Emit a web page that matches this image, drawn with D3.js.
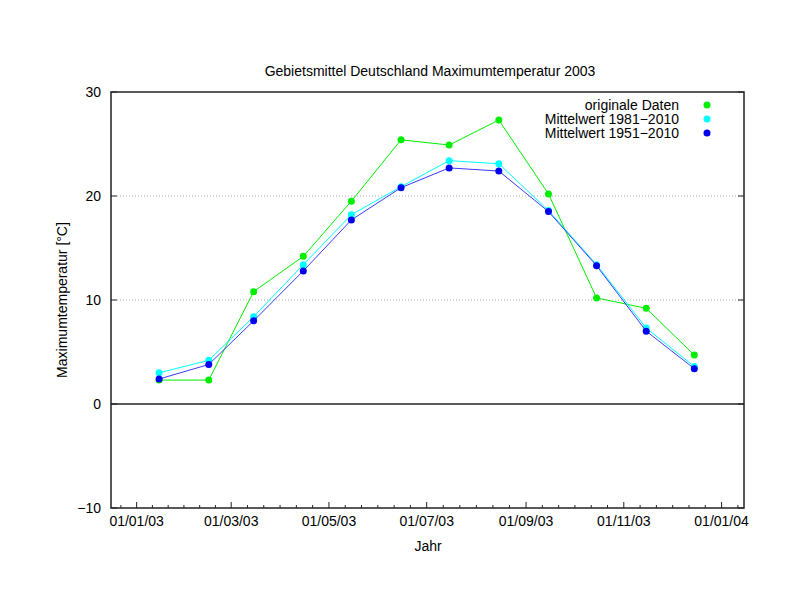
<!DOCTYPE html>
<html>
<head>
<meta charset="utf-8">
<script src="https://cdn.jsdelivr.net/npm/d3@7"></script>
<style>
  body { margin: 0; background: #fff; }
  text { font-family: "Liberation Sans", Arial, sans-serif; font-size: 14px; fill: #000; }
</style>
</head>
<body>
<div id="chart"></div>
<script>
const width = 792;
const height = 612;
const margin = { top: 92, right: 48, bottom: 104, left: 111 };

// monthly values, plotted on the 15th of each month
const months = [0, 1, 2, 3, 4, 5, 6, 7, 8, 9, 10, 11];
const original = [2.3, 2.3, 10.8, 14.2, 19.5, 25.4, 24.9, 27.3, 20.2, 10.2, 9.2, 4.7];
const mean8110 = [3.0, 4.2, 8.4, 13.4, 18.2, 20.9, 23.4, 23.1, 18.6, 13.4, 7.3, 3.6];
const mean5110 = [2.4, 3.8, 8.0, 12.8, 17.7, 20.8, 22.7, 22.4, 18.5, 13.3, 7.0, 3.4];
const yTicks = [-10, 0, 10, 20, 30];

const series = [
  { name: "originale Daten", values: original, color: "#00ee00", line: "#00ee00" },
  { name: "Mittelwert 1981\u22122010", values: mean8110, color: "#00ffff", line: "#00ffff" },
  { name: "Mittelwert 1951\u22122010", values: mean5110, color: "#0000ee", line: "#3a3aff" },
];

const svg = d3.select("#chart").append("svg")
  .attr("width", width)
  .attr("height", height);

const x = d3.scaleTime()
  .domain([new Date(2002, 11, 16), new Date(2004, 0, 15)])
  .range([margin.left, width - margin.right]);
const y = d3.scaleLinear()
  .domain([-10, 30])
  .range([height - margin.bottom, margin.top]);

const x0 = margin.left, x1 = width - margin.right;
const y0 = height - margin.bottom, y1 = margin.top;

// grid lines (dotted) at inner ticks
svg.append("g").selectAll("line")
  .data([10, 20])
  .join("line")
  .attr("x1", x0).attr("x2", x1)
  .attr("y1", d => y(d)).attr("y2", d => y(d))
  .attr("stroke", "#b4b4b4")
  .attr("stroke-width", 1)
  .attr("stroke-dasharray", "1,2");

// zero axis
svg.append("line")
  .attr("x1", x0).attr("x2", x1)
  .attr("y1", y(0)).attr("y2", y(0))
  .attr("stroke", "#222")
  .attr("stroke-width", 1.5);

// y ticks on both sides
const yt = svg.append("g");
yt.selectAll(".tl").data(yTicks).join("line")
  .attr("x1", x0).attr("x2", x0 + 6)
  .attr("y1", d => y(d)).attr("y2", d => y(d))
  .attr("stroke", "#222");
yt.selectAll(".tr").data(yTicks).join("line")
  .attr("x1", x1).attr("x2", x1 - 6)
  .attr("y1", d => y(d)).attr("y2", d => y(d))
  .attr("stroke", "#222");
yt.selectAll("text").data(yTicks).join("text")
  .attr("x", x0 - 10)
  .attr("y", d => y(d))
  .attr("dy", "0.35em")
  .attr("text-anchor", "end")
  .text(d => d < 0 ? "\u2212" + Math.abs(d) : d);

// x ticks: major every two months, five minor ticks between
const majors = d3.timeMonth.every(2).range(new Date(2003, 0, 1), new Date(2004, 0, 2));
const minors = [];
for (let i = -1; i < majors.length; i++) {
  const a = i < 0 ? +majors[0] - (+majors[1] - +majors[0]) : +majors[i];
  const b = i + 1 < majors.length ? +majors[i + 1] : +majors[i] + (+majors[i] - +majors[i - 1]);
  for (let k = 1; k < 6; k++) {
    const t = new Date(a + (b - a) * k / 6);
    if (x(t) > x0 && x(t) < x1) minors.push(t);
  }
}
const fmt = d3.timeFormat("%d/%m/%y");
const xt = svg.append("g");
xt.selectAll(".maj").data(majors).join("line")
  .attr("x1", d => x(d)).attr("x2", d => x(d))
  .attr("y1", y0).attr("y2", y0 - 6)
  .attr("stroke", "#222");
xt.selectAll(".min").data(minors).join("line")
  .attr("class", "min")
  .attr("x1", d => x(d)).attr("x2", d => x(d))
  .attr("y1", y0).attr("y2", y0 - 3)
  .attr("stroke", "#222");
xt.selectAll("text").data(majors).join("text")
  .attr("x", d => x(d))
  .attr("y", y0 + 18)
  .attr("text-anchor", "middle")
  .text(d => fmt(d));

// border
svg.append("rect")
  .attr("x", x0).attr("y", y1)
  .attr("width", x1 - x0).attr("height", y0 - y1)
  .attr("fill", "none")
  .attr("stroke", "#222")
  .attr("stroke-width", 1.5);

// series
const date = m => new Date(2003, m, 15);
const line = d3.line()
  .x((d, i) => x(date(months[i])))
  .y(d => y(d));

series.forEach(s => {
  const g = svg.append("g");
  g.append("path")
    .attr("d", line(s.values))
    .attr("fill", "none")
    .attr("stroke", s.line)
    .attr("stroke-width", 1);
  g.selectAll("circle").data(s.values).join("circle")
    .attr("cx", (d, i) => x(date(months[i])))
    .attr("cy", d => y(d))
    .attr("r", 3.5)
    .attr("fill", s.color);
});

// legend
const legend = svg.append("g").selectAll("g")
  .data(series)
  .join("g")
  .attr("transform", (d, i) => `translate(0,${105 + i * 14})`);
legend.append("text")
  .attr("x", 679)
  .attr("dy", "0.35em")
  .attr("text-anchor", "end")
  .text(d => d.name);
legend.append("circle")
  .attr("cx", 707)
  .attr("r", 3.5)
  .attr("fill", d => d.color);

// titles
svg.append("text")
  .attr("x", 430).attr("y", 76)
  .attr("text-anchor", "middle")
  .text("Gebietsmittel Deutschland Maximumtemperatur 2003");
svg.append("text")
  .attr("x", 428).attr("y", 551)
  .attr("text-anchor", "middle")
  .text("Jahr");
svg.append("text")
  .attr("transform", "translate(67,300) rotate(-90)")
  .attr("text-anchor", "middle")
  .text("Maximumtemperatur [\u00b0C]");
</script>
</body>
</html>
